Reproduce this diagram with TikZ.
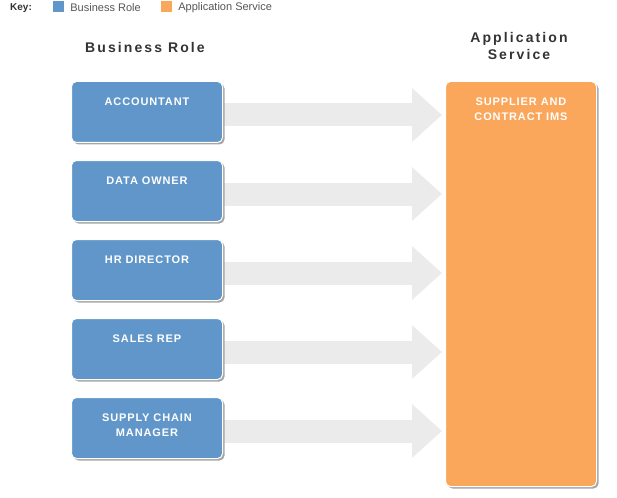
\documentclass[tikz,border=0pt]{standalone}
\usepackage{fontspec}
\setmainfont{Liberation Sans}
\newfontfamily\headfont[LetterSpace=15]{Liberation Sans}
\newfontfamily\boxfont[LetterSpace=8]{Liberation Sans}
\usetikzlibrary{arrows.meta}
\usetikzlibrary{shadows}
\usetikzlibrary{backgrounds}
\usetikzlibrary{positioning}

\definecolor{rolefill}{HTML}{6096C9}
\definecolor{servicefill}{HTML}{FBA75B}
\definecolor{flowgray}{HTML}{EBEBEB}
\definecolor{keygray}{HTML}{555555}
\definecolor{headgray}{HTML}{333333}

% text sits at the top of each box
\newcommand\boxlabel[2]{\parbox[c][#1][t]{146pt}{\centering #2}}

\begin{document}
\begin{tikzpicture}[x=1pt, y=1pt]
\useasboundingbox (0,0) rectangle (617,-497);

\tikzstyle{rolenode}=[rectangle, rounded corners=5pt, fill=rolefill, draw=white,
line width=1pt, minimum width=151pt, minimum height=61pt, inner sep=0pt, text=white,
font=\boxfont\bfseries\fontsize{11}{15}\selectfont,
drop shadow={shadow xshift=2pt, shadow yshift=-2pt, fill=black!35, opacity=1}]
\tikzstyle{servicenode}=[rolenode, fill=servicefill, minimum height=405pt]
\tikzstyle{flow}=[draw=flowgray, line width=23pt, -{Triangle[length=30pt,width=52pt]}, shorten >=3pt]
\tikzstyle{heading}=[align=center, text=headgray, inner sep=0pt,
font=\headfont\bfseries\fontsize{14}{17}\selectfont]
\tikzstyle{keyswatch}=[rectangle, minimum size=11pt, inner sep=0pt]
\tikzstyle{keylabel}=[text=keygray, inner sep=0pt, font=\fontsize{11}{12}\selectfont]

% key
\node[keylabel, anchor=west, text=headgray, font=\bfseries\fontsize{10}{12}\selectfont] (key) at (10,-8) {Key:};
\node[keyswatch, fill=rolefill] (keyrole) at (58.5,-6.5) {};
\node[keylabel, right=6pt of keyrole, yshift=-1pt] (keyroletext) {Business Role};
\node[keyswatch, fill=servicefill] (keyservice) at (166.5,-6.5) {};
\node[keylabel, right=6pt of keyservice, yshift=-1pt] (keyservicetext) {Application Service};

% column headings
\node[heading] (roletitle) at (145,-47) {Business Role};
\node[heading] (servicetitle) at (519,-46) {Application\\Service};

% roles
\node[rolenode] (accountant) at (147,-112) {\boxlabel{29pt}{ACCOUNTANT}};
\node[rolenode, below=17pt of accountant] (dataowner) {\boxlabel{29pt}{DATA OWNER}};
\node[rolenode, below=17pt of dataowner] (hrdirector) {\boxlabel{29pt}{HR DIRECTOR}};
\node[rolenode, below=17pt of hrdirector] (salesrep) {\boxlabel{29pt}{SALES REP}};
\node[rolenode, below=17pt of salesrep] (supplychain) {\boxlabel{29pt}{SUPPLY CHAIN\\MANAGER}};

% service
\node[servicenode] (ims) at (521,-284) {\boxlabel{373pt}{SUPPLIER AND\\CONTRACT IMS}};

% flows
\begin{scope}[on background layer]
\foreach \role in {accountant,dataowner,hrdirector,salesrep,supplychain}
	\draw[flow] ([yshift=-3pt]\role.east) -- ([yshift=-3pt]\role.east -| ims.west);
\end{scope}
\end{tikzpicture}
\end{document}
